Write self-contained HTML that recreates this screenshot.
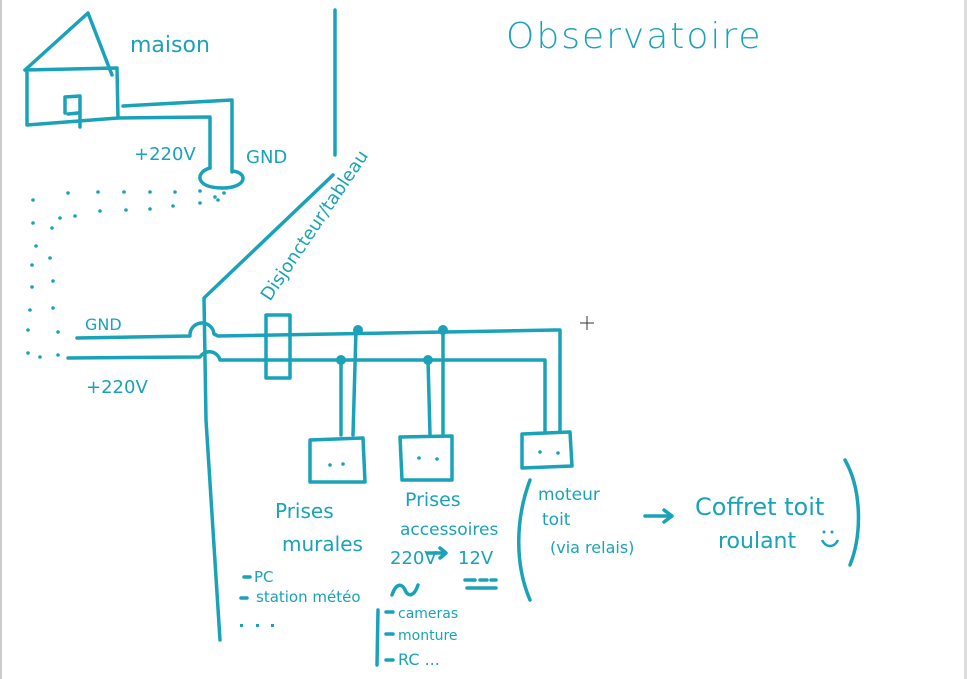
<!DOCTYPE html>
<html><head><meta charset="utf-8"><style>
html,body{margin:0;padding:0;background:#fff;width:967px;height:679px;overflow:hidden}
svg{display:block}
text{font-family:"DejaVu Sans","Liberation Sans",sans-serif;fill:#1aa3b8}
</style></head><body>
<svg width="967" height="679" viewBox="0 0 967 679" xmlns="http://www.w3.org/2000/svg">
<rect x="0" y="0" width="2" height="679" fill="#ccc"/>
<rect x="964" y="0" width="3" height="679" fill="#ddd"/>
<g stroke="#1aa3b8" stroke-width="3.5" fill="none" stroke-linecap="round" stroke-linejoin="round">
<path d="M25,70 L88,13 L112,75"/>
<path d="M25,70 L117,68 L118,118 M27,70 L27,125 L118,118"/>
<path d="M65,113 L65,97 L80,96 L80,127 M68,114 L78,113"/>
<path d="M123,106 L232,100 L232,172"/>
<path d="M118,118 L210,117 L210,168"/>
<path d="M210,168 C195,172 195,188 222,188 C248,188 248,172 232,171"/>
<path d="M335,10 L335,155"/>
<path d="M333,175 L204,298 L206,420 L220,640"/>
<path d="M77,338 L190,336 A12,12 0 0 1 214,334 L218,336 L555,330 L560,330 L560,432"/>
<path d="M68,358 L200,357 A11,11 0 0 1 220,360 L545,360 L545,432"/>
<rect x="266" y="315" width="24" height="63"/>
<path d="M341,360 L341,435 M356,330 L353,435"/>
<path d="M428,360 L430,434 M443,330 L443,434"/>
<path d="M310,440 L363,438 L365,482 L310,482 Z"/>
<path d="M400,437 L452,436 L452,480 L402,480 Z"/>
<path d="M522,434 L570,432 L572,466 L522,468 Z"/>
<path d="M530,480 C515,520 515,565 530,600"/>
<path d="M845,460 C862,490 862,535 850,565"/>
<path d="M378,610 L377,665"/>
<path d="M645,516 L672,516 M664,510 L672,516 L664,522"/>
<path d="M428,553 L445,553 M440,548 L446,553 L440,558"/>
<path d="M465,580 L475,580 M480,580 L487,580 M491,580 L496,580 M467,588 L496,588"/>
<path d="M392,595 C396,583 402,583 405,590 C408,597 414,597 418,585"/>
<path d="M244,577 L250,577 M241,598 L247,598 M386,612 L393,612 M386,634 L393,634 M386,660 L393,660"/>
</g>
<g fill="#1aa3b8">
<rect x="240" y="624" width="3" height="3"/><rect x="256" y="624" width="3" height="3"/><rect x="271" y="624" width="3" height="3"/>
<circle cx="358" cy="330" r="5"/><circle cx="443" cy="330" r="5"/>
<circle cx="341" cy="360" r="5"/><circle cx="428" cy="360" r="5"/>
<circle cx="330" cy="465" r="1.8"/><circle cx="343" cy="464" r="1.8"/>
<circle cx="419" cy="458" r="1.8"/><circle cx="437" cy="459" r="1.8"/>
<circle cx="540" cy="452" r="1.8"/><circle cx="558" cy="453" r="1.8"/>
<circle cx="824" cy="532" r="1.5"/><circle cx="832" cy="532" r="1.5"/>
<circle cx="33" cy="200" r="1.8"/><circle cx="68" cy="193" r="1.8"/><circle cx="98" cy="192" r="1.8"/><circle cx="124" cy="192" r="1.8"/><circle cx="150" cy="192" r="1.8"/><circle cx="175" cy="192" r="1.8"/><circle cx="200" cy="191" r="1.8"/><circle cx="215" cy="197" r="1.8"/><circle cx="224" cy="193" r="1.8"/>
<circle cx="218" cy="200" r="1.8"/><circle cx="200" cy="203" r="1.8"/><circle cx="173" cy="206" r="1.8"/><circle cx="150" cy="209" r="1.8"/><circle cx="126" cy="210" r="1.8"/><circle cx="100" cy="211" r="1.8"/><circle cx="75" cy="216" r="1.8"/><circle cx="60" cy="218" r="1.8"/><circle cx="52" cy="228" r="1.8"/>
<circle cx="33" cy="223" r="1.8"/><circle cx="36" cy="246" r="1.8"/><circle cx="32" cy="265" r="1.8"/><circle cx="32" cy="287" r="1.8"/><circle cx="30" cy="310" r="1.8"/><circle cx="28" cy="330" r="1.8"/><circle cx="28" cy="353" r="1.8"/>
<circle cx="50" cy="258" r="1.8"/><circle cx="53" cy="281" r="1.8"/><circle cx="53" cy="308" r="1.8"/><circle cx="58" cy="332" r="1.8"/><circle cx="40" cy="357" r="1.8"/><circle cx="58" cy="355" r="1.8"/>
</g>
<text x="130" y="52" font-size="22">maison</text>
<text x="506" y="48" font-size="36" font-weight="300" letter-spacing="2">Observatoire</text>
<text x="134" y="160" font-size="18">+220V</text>
<text x="246" y="163" font-size="18">GND</text>
<text x="85" y="330" font-size="16">GND</text>
<text x="86" y="393" font-size="18">+220V</text>
<text transform="translate(270,302) rotate(-56)" font-size="18">Disjoncteur/tableau</text>
<text x="275" y="518" font-size="20">Prises</text>
<text x="282" y="551" font-size="20">murales</text>
<text x="405" y="506" font-size="19">Prises</text>
<text x="400" y="535" font-size="17">accessoires</text>
<text x="390" y="564" font-size="18">220V</text><text x="458" y="564" font-size="18">12V</text>
<text x="254" y="582" font-size="15">PC</text>
<text x="256" y="602" font-size="15">station météo</text>
<text x="398" y="618" font-size="14">cameras</text>
<text x="398" y="640" font-size="14">monture</text>
<text x="398" y="665" font-size="16">RC ...</text>
<text x="538" y="500" font-size="17">moteur</text>
<text x="542" y="525" font-size="17">toit</text>
<text x="550" y="553" font-size="16">(via relais)</text>
<text x="695" y="515" font-size="24">Coffret toit</text>
<text x="718" y="548" font-size="22">roulant</text>
<path d="M822,540 C826,548 834,548 838,540" stroke="#1aa3b8" stroke-width="2.5" fill="none"/>
<path d="M580,323 L594,323 M587,316 L587,330" stroke="#333" stroke-width="1"/>
</svg>
</body></html>
